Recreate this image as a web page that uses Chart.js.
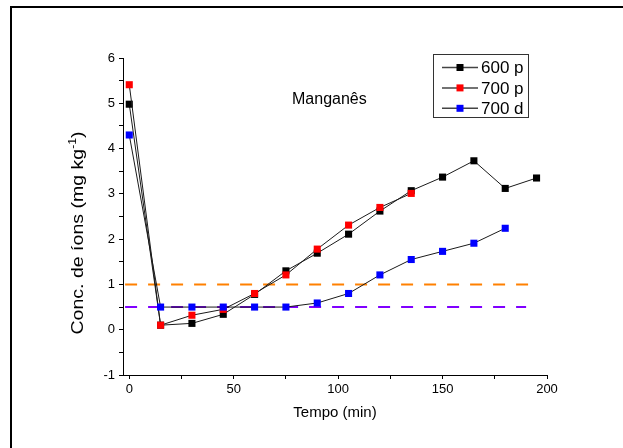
<!DOCTYPE html>
<html>
<head>
<meta charset="utf-8">
<script src="https://cdn.jsdelivr.net/npm/chart.js@4.4.0/dist/chart.umd.min.js"></script>
<style>
  html, body { margin: 0; padding: 0; background: #fff; }
</style>
</head>
<body>
<canvas id="mnChart" width="623" height="448"></canvas>
<script>
// Manganês - conc. de íons vs tempo
const tempo600p = [0, 15, 30, 45, 60, 75, 90, 105, 120, 135, 150, 165, 180, 195];
const conc600p = [4.98, 0.1, 0.14, 0.34, 0.78, 1.3, 1.69, 2.11, 2.62, 3.07, 3.37, 3.73, 3.12, 3.35];
const tempo700p = [0, 15, 30, 45, 60, 75, 90, 105, 120, 135];
const conc700p = [5.41, 0.1, 0.32, 0.45, 0.8, 1.21, 1.78, 2.31, 2.7, 3.01];
const tempo700d = [0, 15, 30, 45, 60, 75, 90, 105, 120, 135, 150, 165, 180];
const conc700d = [4.3, 0.5, 0.5, 0.5, 0.5, 0.5, 0.59, 0.8, 1.21, 1.55, 1.73, 1.91, 2.24];
const seriesLabels = ["600 p", "700 p", "700 d"];
const seriesColors = ["#000000", "#ff0000", "#0000ff"];

// reference levels (dashed)
const limitValues = [1, 0.5];
const limitStart = [-2, -2];
const limitEnd = [191, 190];
const limitColors = ["#ff8000", "#8000ff"];

const xTickValues = [0, 25, 50, 75, 100, 125, 150, 175, 200];
const yTickValues = [-1, -0.5, 0, 0.5, 1, 1.5, 2, 2.5, 3, 3.5, 4, 4.5, 5, 5.5, 6];

const toPoints = (xs, ys) => xs.map((x, i) => ({ x: x, y: ys[i] }));

const seriesX = [tempo600p, tempo700p, tempo700d];
const seriesY = [conc600p, conc700p, conc700d];

const datasets = [];
seriesLabels.forEach((lbl, i) => {
  datasets.push({
    label: lbl,
    data: toPoints(seriesX[i], seriesY[i]),
    showLine: true,
    borderColor: "#1a1a1a",
    borderWidth: 1,
    tension: 0,
    pointStyle: "rect",
    pointRadius: 5,
    pointHoverRadius: 5,
    pointBackgroundColor: seriesColors[i],
    pointBorderWidth: 0,
    order: 3 - i,
  });
});
limitValues.forEach((v, i) => {
  datasets.push({
    data: [{ x: limitStart[i], y: v }, { x: limitEnd[i], y: v }],
    showLine: true,
    borderColor: limitColors[i],
    borderWidth: 2,
    borderDash: [12, 11],
    pointRadius: 0,
    order: 10 + i,
  });
});

const font = "'Liberation Sans', Arial, sans-serif";

const extras = {
  id: "extras",
  afterDraw(chart) {
    const ctx = chart.ctx;
    ctx.save();

    // outer frame (top and left only)
    ctx.strokeStyle = "#000";
    ctx.lineWidth = 2;
    ctx.beginPath();
    ctx.moveTo(10, 7);
    ctx.lineTo(623, 7);
    ctx.moveTo(11, 6);
    ctx.lineTo(11, 448);
    ctx.stroke();

    // annotation
    ctx.fillStyle = "#000";
    ctx.font = "16px " + font;
    ctx.textBaseline = "alphabetic";
    ctx.textAlign = "left";
    ctx.fillText("Manganês", 292, 104);

    // y axis title with superscript
    const main = "Conc. de íons (mg kg";
    const sup = "-1";
    const tail = ")";
    ctx.font = "16px " + font;
    const wMain = ctx.measureText(main).width;
    const wTail = ctx.measureText(tail).width;
    ctx.font = "10px " + font;
    const wSup = ctx.measureText(sup).width;
    const total = wMain + wSup + wTail;
    const stretch = 203 / total;
    ctx.translate(83, 233);
    ctx.rotate(-Math.PI / 2);
    ctx.scale(stretch, 1);
    let x0 = -total / 2;
    ctx.font = "16px " + font;
    ctx.fillText(main, x0, 0);
    ctx.font = "10px " + font;
    ctx.fillText(sup, x0 + wMain, -7);
    ctx.font = "16px " + font;
    ctx.fillText(tail, x0 + wMain + wSup, 0);
    ctx.restore();

    // legend box
    ctx.save();
    const bx = 433, by = 54, bw = 95, bh = 63;
    ctx.strokeStyle = "#333";
    ctx.lineWidth = 1;
    ctx.strokeRect(bx + 0.5, by + 0.5, bw, bh);
    const rows = chart.data.datasets.filter(d => d.label);
    rows.forEach((d, i) => {
      const cy = 67.5 + i * 20.4;
      ctx.strokeStyle = "#444";
      ctx.lineWidth = 1.5;
      ctx.beginPath();
      ctx.moveTo(442, cy);
      ctx.lineTo(478, cy);
      ctx.stroke();
      ctx.fillStyle = d.pointBackgroundColor;
      ctx.fillRect(456.5, cy - 3.5, 7, 7);
      ctx.fillStyle = "#000";
      ctx.font = "17px " + font;
      ctx.textBaseline = "middle";
      ctx.textAlign = "left";
      ctx.fillText(d.label, 481, cy + 1);
    });
    ctx.restore();
  },
};

const ctx = document.getElementById("mnChart").getContext("2d");
const chart = new Chart(ctx, {
  type: "scatter",
  data: { datasets: datasets },
  options: {
    responsive: false,
    animation: false,
    devicePixelRatio: 1,
    layout: { padding: { left: 20, top: 58, right: 76, bottom: 20 } },
    plugins: {
      legend: { display: false },
      tooltip: { enabled: false },
    },
    scales: {
      x: {
        type: "linear",
        min: -3,
        max: 200,
        afterFit: (s) => { s.height = 53; },
        afterBuildTicks: (s) => { s.ticks = xTickValues.map(v => ({ value: v })); },
        grid: { drawOnChartArea: false, drawTicks: true, tickLength: 4, color: "#000", lineWidth: 1 },
        border: { display: true, color: "#000", width: 1 },
        ticks: {
          autoSkip: false,
          maxRotation: 0,
          padding: 3,
          color: "#000",
          font: { family: font, size: 13 },
          callback: (v) => (v % 50 === 0 ? v : ""),
        },
        title: {
          display: true,
          text: "Tempo (min)",
          color: "#000",
          font: { family: font, size: 15 },
          padding: { top: 0, bottom: 6 },
        },
      },
      y: {
        type: "linear",
        min: -1,
        max: 6,
        afterFit: (s) => { s.width = 103; },
        afterBuildTicks: (s) => { s.ticks = yTickValues.map(v => ({ value: v })); },
        grid: { drawOnChartArea: false, drawTicks: true, tickLength: 4, color: "#000", lineWidth: 1 },
        border: { display: true, color: "#000", width: 1 },
        ticks: {
          autoSkip: false,
          padding: 4,
          color: "#000",
          font: { family: font, size: 13 },
          callback: (v) => (Number.isInteger(v) ? v : ""),
        },
      },
    },
  },
  plugins: [extras],
});
</script>
</body>
</html>
